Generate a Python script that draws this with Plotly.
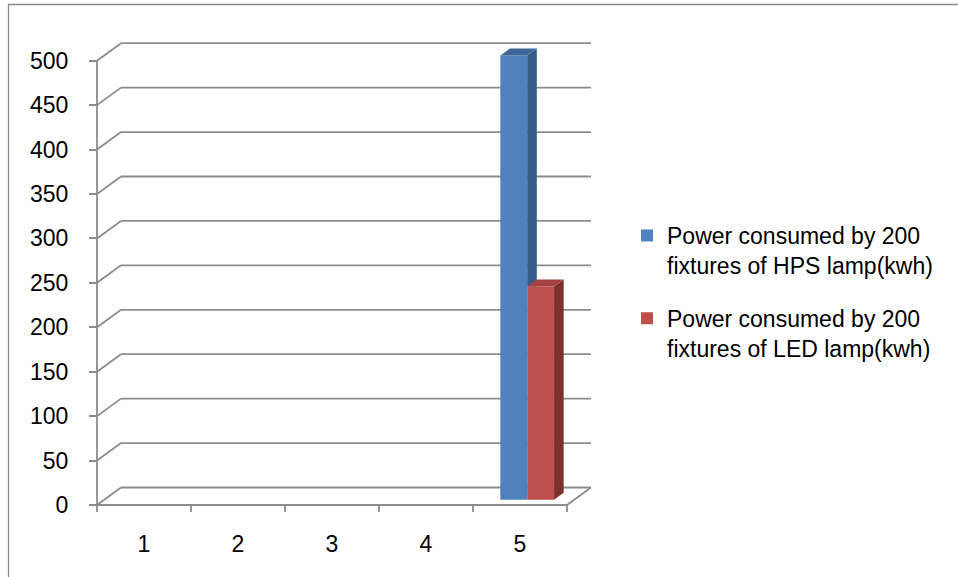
import plotly.graph_objects as go

# ---- data -----------------------------------------------------------------
categories = [1, 2, 3, 4, 5]
category_labels = ["1", "2", "3", "4", "5"]
hps_kwh = [None, None, None, None, 500]
led_kwh = [None, None, None, None, 240]
series_names = [
    "Power consumed by 200<br>fixtures of HPS lamp(kwh)",
    "Power consumed by 200<br>fixtures of LED lamp(kwh)",
]
y_ticks = [0, 50, 100, 150, 200, 250, 300, 350, 400, 450, 500]
y_tick_labels = [str(t) for t in y_ticks]

# ---- styling --------------------------------------------------------------
front_colors = ["#4F81BD", "#C0504D"]
top_colors = ["#3E6698", "#A5423F"]
side_colors = ["#365A87", "#7F302E"]
grid_color = "#8C8C8C"
FONT = "Liberation Sans"
TICK_SIZE = 23
LEGEND_SIZE = 23

# ---- page / plot geometry (pixels) ----------------------------------------
W, H = 958, 577
L, R, T, B = 80, 358, 30, 57
X0_PX, Y0_PX = 97, 505          # front-left corner of the floor
PX_PER_CAT = 94.0
PX_PER_UNIT = 0.8886
DEPTH_DX_PX, DEPTH_DY_PX = 24.0, 17.5

x_range = [0.5 + (L - X0_PX) / PX_PER_CAT, 0.5 + (W - R - X0_PX) / PX_PER_CAT]
y_range = [(Y0_PX - (H - B)) / PX_PER_UNIT, (Y0_PX - T) / PX_PER_UNIT]
DX = DEPTH_DX_PX / PX_PER_CAT      # depth shift in category units
DY = DEPTH_DY_PX / PX_PER_UNIT     # depth shift in value units

# 3-D column layout: gap width 150 %, columns occupy 30 %..70 % of depth
GAP_WIDTH = 1.5
bar_w = 1.0 / (len(series_names) + GAP_WIDTH)
d_front, d_back = 0.3, 0.7
bar_base = d_front * DY
ddx, ddy = (d_back - d_front) * DX, (d_back - d_front) * DY
offsets = [-0.5 + (1 - len(series_names) * bar_w) / 2 + k * bar_w + d_front * DX
           for k in range(len(series_names))]

fig = go.Figure()

# ---- walls, floor and gridlines --------------------------------------------
line_style = dict(color=grid_color, width=1.8)
x_left, x_right = categories[0] - 0.5, categories[-1] + 0.5
shapes = []
for t in y_ticks:
    shapes.append(dict(type="line", xref="x", yref="y", layer="below",
                       x0=x_left, y0=t, x1=x_left + DX, y1=t + DY, line=line_style))
    shapes.append(dict(type="line", xref="x", yref="y", layer="below",
                       x0=x_left + DX, y0=t + DY, x1=x_right + DX, y1=t + DY, line=line_style))
# front vertical axis and front floor edge
shapes.append(dict(type="line", xref="x", yref="y", layer="below",
                   x0=x_left, y0=0, x1=x_left, y1=y_ticks[-1], line=line_style))
shapes.append(dict(type="line", xref="x", yref="y", layer="below",
                   x0=x_left, y0=0, x1=x_right, y1=0, line=line_style))
shapes.append(dict(type="line", xref="x", yref="y", layer="below",
                   x0=x_right, y0=0, x1=x_right + DX, y1=DY, line=line_style))
# category boundary ticks
tick_len = 7 / PX_PER_UNIT
for c in categories + [categories[-1] + 1]:
    xb = c - 0.5
    shapes.append(dict(type="line", xref="x", yref="y", layer="below",
                       x0=xb, y0=0, x1=xb, y1=-tick_len, line=line_style))

# chart border
px_to_paper_x = lambda px: (px - L) / (W - L - R)
px_to_paper_y = lambda py: 1 - (py - T) / (H - T - B)
shapes.append(dict(type="rect", xref="paper", yref="paper",
                   x0=px_to_paper_x(8.5), y0=px_to_paper_y(H + 20),
                   x1=px_to_paper_x(W + 20), y1=px_to_paper_y(4.5),
                   line=dict(color="#8A8A8A", width=1.3), fillcolor="rgba(0,0,0,0)"))

# ---- column front faces ------------------------------------------------------
series = [hps_kwh, led_kwh]
for k, vals in enumerate(series):
    fig.add_trace(go.Bar(
        x=categories, y=vals, base=bar_base, offset=offsets[k], width=bar_w,
        name=series_names[k], marker=dict(color=front_colors[k], line=dict(width=0)),
        legendgroup=f"g{k}",
    ))

# ---- column side and top faces ---------------------------------------------
for k, vals in enumerate(series):
    for i, c in enumerate(categories):
        v = vals[i]
        if v is None:
            continue
        xl = c + offsets[k]
        xr = xl + bar_w
        top = bar_base + v
        # the next column in the cluster hides the lower part of this side face
        low = bar_base
        if k + 1 < len(series) and series[k + 1][i] is not None:
            low = max(low, bar_base + series[k + 1][i])
        if top > low:
            fig.add_trace(go.Scatter(
                x=[xr, xr + ddx, xr + ddx, xr, xr],
                y=[low, low + (ddy if low == bar_base else 0), top + ddy, top, low],
                fill="toself", fillcolor=side_colors[k], mode="none",
                showlegend=False, hoverinfo="skip"))
        fig.add_trace(go.Scatter(
            x=[xl, xr, xr + ddx, xl + ddx, xl],
            y=[top, top, top + ddy, top + ddy, top],
            fill="toself", fillcolor=top_colors[k], mode="none",
            showlegend=False, hoverinfo="skip"))

fig.update_layout(
    width=W, height=H,
    margin=dict(l=L, r=R, t=T, b=B),
    paper_bgcolor="white", plot_bgcolor="white",
    barmode="overlay",
    font=dict(family=FONT, size=TICK_SIZE, color="#000000"),
    shapes=shapes,
    showlegend=True,
    legend=dict(
        x=px_to_paper_x(627), y=px_to_paper_y(214), xanchor="left", yanchor="top",
        font=dict(family=FONT, size=LEGEND_SIZE, color="#000000"),
        valign="top", tracegroupgap=20, bgcolor="rgba(0,0,0,0)",
    ),
    xaxis=dict(
        range=x_range, showgrid=False, zeroline=False, showline=False,
        tickmode="array", tickvals=categories, ticktext=category_labels, ticks="",
        tickfont=dict(family=FONT, size=TICK_SIZE, color="#000000"), fixedrange=True,
        ticklabelstandoff=8,
    ),
    yaxis=dict(
        range=y_range, showgrid=False, zeroline=False, showline=False,
        anchor="free", position=px_to_paper_x(X0_PX),
        tickmode="array", tickvals=y_ticks, ticktext=y_tick_labels,
        ticks="outside", ticklen=8, tickwidth=1.8,
        tickcolor=grid_color, ticklabelstandoff=16,
        tickfont=dict(family=FONT, size=TICK_SIZE, color="#000000"), fixedrange=True,
    ),
)

fig.write_html("out.html")
